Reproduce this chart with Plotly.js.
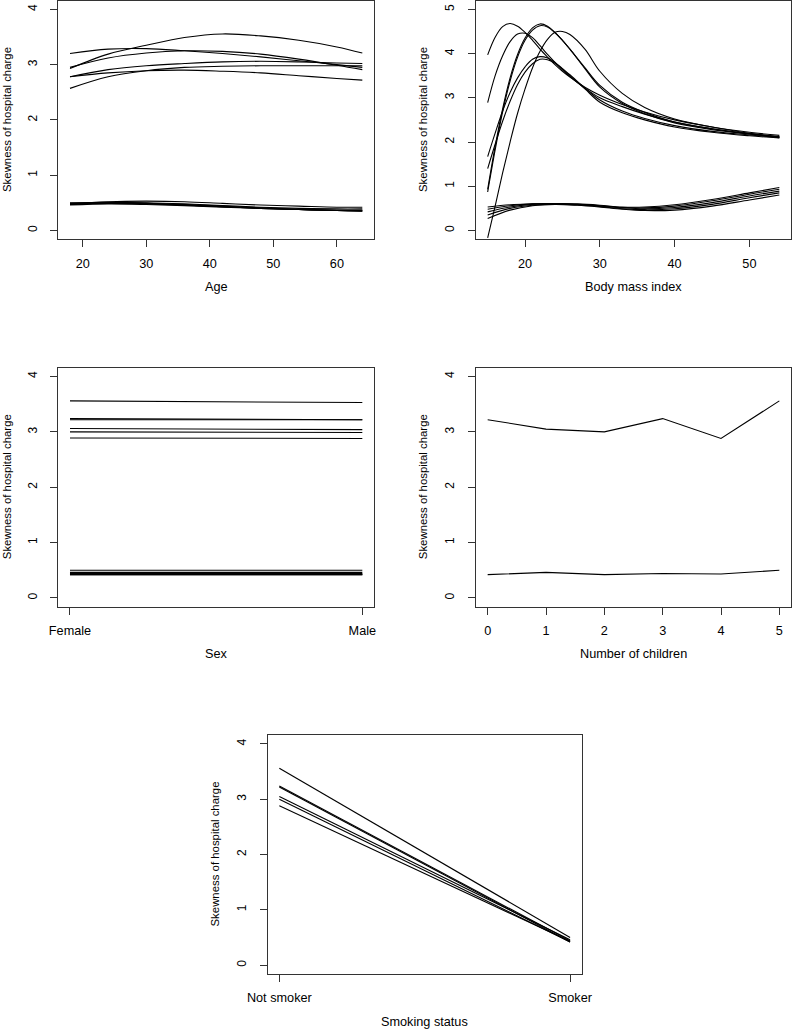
<!DOCTYPE html>
<html>
<head>
<meta charset="utf-8">
<script src="https://cdn.plot.ly/plotly-3.0.1.min.js"></script>
<style>
body { margin: 0; background: #fff; }
#plot { width: 792px; height: 1029px; }
</style>
</head>
<body>
<div id="plot"></div>
<script>
// skewness, one row per number of children (0..5)
var age_grid = [18, 24, 30, 36, 42, 48, 54, 60, 64];
var age_not_smoker = [
	[3.20, 3.28, 3.29, 3.25, 3.20, 3.14, 3.07, 3.00, 2.95],
	[2.78, 2.91, 2.98, 3.02, 3.05, 3.06, 3.05, 3.03, 3.02],
	[2.57, 2.78, 2.89, 2.95, 2.97, 2.98, 2.98, 2.98, 2.98],
	[2.95, 3.12, 3.21, 3.25, 3.24, 3.19, 3.10, 2.99, 2.91],
	[2.78, 2.85, 2.89, 2.90, 2.88, 2.85, 2.80, 2.75, 2.72],
	[2.93, 3.19, 3.35, 3.49, 3.555, 3.52, 3.44, 3.32, 3.21]
];
var age_smoker = [
	[0.50, 0.51, 0.49, 0.46, 0.43, 0.40, 0.38, 0.36, 0.35],
	[0.47, 0.50, 0.50, 0.48, 0.45, 0.42, 0.40, 0.39, 0.39],
	[0.46, 0.48, 0.47, 0.45, 0.42, 0.40, 0.38, 0.37, 0.37],
	[0.49, 0.50, 0.49, 0.47, 0.44, 0.41, 0.38, 0.36, 0.35],
	[0.47, 0.49, 0.48, 0.46, 0.43, 0.40, 0.38, 0.36, 0.36],
	[0.48, 0.52, 0.53, 0.52, 0.49, 0.46, 0.44, 0.42, 0.42]
];

var bmi_grid = [15, 16, 17, 18, 19, 20, 21, 22, 23, 24, 25, 26, 28, 30, 33, 36, 40, 45, 50, 54];
var bmi_not_smoker = [
	[-0.17, 0.55, 1.30, 2.00, 2.65, 3.20, 3.68, 4.05, 4.32, 4.48, 4.50, 4.43, 4.10, 3.60, 3.10, 2.78, 2.52, 2.34, 2.22, 2.15],
	[0.93, 1.90, 2.75, 3.45, 3.98, 4.35, 4.58, 4.67, 4.62, 4.48, 4.30, 4.10, 3.68, 3.28, 2.90, 2.67, 2.45, 2.30, 2.19, 2.12],
	[0.87, 1.82, 2.68, 3.38, 3.92, 4.30, 4.53, 4.63, 4.60, 4.47, 4.30, 4.10, 3.66, 3.24, 2.87, 2.64, 2.43, 2.28, 2.18, 2.11],
	[3.97, 4.37, 4.61, 4.68, 4.62, 4.48, 4.30, 4.10, 3.92, 3.75, 3.60, 3.47, 3.24, 3.06, 2.85, 2.68, 2.50, 2.34, 2.20, 2.12],
	[2.89, 3.50, 3.95, 4.27, 4.44, 4.46, 4.36, 4.18, 3.98, 3.80, 3.63, 3.48, 3.22, 3.00, 2.80, 2.63, 2.45, 2.30, 2.18, 2.11],
	[1.67, 2.20, 2.70, 3.12, 3.45, 3.70, 3.87, 3.93, 3.90, 3.80, 3.66, 3.52, 3.22, 2.95, 2.70, 2.53, 2.37, 2.24, 2.16, 2.10],
	[1.40, 1.95, 2.47, 2.92, 3.30, 3.58, 3.77, 3.87, 3.86, 3.78, 3.65, 3.50, 3.20, 2.90, 2.66, 2.50, 2.34, 2.22, 2.14, 2.09]
];
var bmi_grid_smoker = [15, 18, 21, 24, 27, 30, 33, 36, 40, 45, 50, 54];
var bmi_smoker = [
	[0.53, 0.58, 0.60, 0.61, 0.60, 0.57, 0.53, 0.53, 0.58, 0.70, 0.85, 0.97],
	[0.48, 0.56, 0.60, 0.61, 0.59, 0.56, 0.52, 0.51, 0.55, 0.67, 0.82, 0.93],
	[0.42, 0.53, 0.59, 0.60, 0.58, 0.55, 0.51, 0.49, 0.52, 0.63, 0.78, 0.89],
	[0.35, 0.50, 0.57, 0.60, 0.58, 0.54, 0.49, 0.47, 0.49, 0.59, 0.74, 0.85],
	[0.27, 0.46, 0.56, 0.59, 0.57, 0.53, 0.48, 0.45, 0.46, 0.55, 0.69, 0.80]
];

var sex_levels = [0, 1];
var sex_labels = ["Female", "Male"];
var sex_not_smoker = [
	[3.22, 3.22], [3.06, 3.04], [3.00, 2.99], [3.24, 3.22], [2.89, 2.88], [3.56, 3.53]
];
var sex_smoker = [
	[0.42, 0.42], [0.46, 0.46], [0.42, 0.42], [0.44, 0.44], [0.43, 0.43], [0.50, 0.50]
];

var children_levels = [0, 1, 2, 3, 4, 5];
var children_not_smoker = [3.22, 3.05, 3.00, 3.24, 2.88, 3.56];
var children_smoker = [0.42, 0.46, 0.42, 0.44, 0.43, 0.50];

var smoking_levels = [0, 1];
var smoking_labels = ["Not smoker", "Smoker"];

const W = 792;
const H = 1029;
const font_name = "Liberation Sans, Arial, sans-serif";
const frame_color = "#333";
// the picture is a bit wider than tall, so flat text reads larger than upright text
const flat_size = 12.7;
const upright_size = 11.4;

var traces = [];

function add_lines(rows, xs, xa, ya, shape)
{
	rows.forEach(r =>
	{
		traces.push({
			type: "scatter",
			mode: "lines",
			x: xs,
			y: r,
			xaxis: xa,
			yaxis: ya,
			line: {color: "#000", width: 1.1, shape: shape, smoothing: 1},
			hoverinfo: "skip",
			showlegend: false
		});
	});
}

add_lines(age_not_smoker, age_grid, "x", "y", "spline");
add_lines(age_smoker, age_grid, "x", "y", "spline");
add_lines(bmi_not_smoker, bmi_grid, "x2", "y2", "spline");
add_lines(bmi_smoker, bmi_grid_smoker, "x2", "y2", "spline");
add_lines(sex_not_smoker, sex_levels, "x3", "y3", "linear");
add_lines(sex_smoker, sex_levels, "x3", "y3", "linear");
add_lines([children_not_smoker, children_smoker], children_levels, "x4", "y4", "linear");

var smoking_rows = [];
for (var i = 0; i < children_not_smoker.length; i++)
{
	smoking_rows.push([children_not_smoker[i], children_smoker[i]]);
}
add_lines(smoking_rows, smoking_levels, "x5", "y5", "linear");

// pixel box of each panel -> paper domains
function x_dom(a, b) { return [a / W, b / W]; }
function y_dom(top, bottom) { return [1 - bottom / H, 1 - top / H]; }

function x_axis(dom, range, vals, text, anchor)
{
	var ax = {
		domain: dom,
		range: range,
		anchor: anchor,
		tickmode: "array",
		tickvals: vals,
		ticks: "outside",
		ticklen: 7,
		tickwidth: 1,
		tickcolor: frame_color,
		ticklabelstandoff: 5,
		showline: true,
		mirror: true,
		linecolor: frame_color,
		linewidth: 1,
		showgrid: false,
		zeroline: false,
		tickfont: {family: font_name, size: flat_size, color: "#000"}
	};
	if (text) ax.ticktext = text;
	return ax;
}

function y_axis(dom, range, top, anchor)
{
	var vals = [];
	for (var v = 0; v <= top; v++) vals.push(v);
	return {
		domain: dom,
		range: range,
		anchor: anchor,
		tickmode: "array",
		tickvals: vals,
		tickangle: -90,
		ticks: "outside",
		ticklen: 7,
		tickwidth: 1,
		tickcolor: frame_color,
		ticklabelstandoff: 9,
		showline: true,
		mirror: true,
		linecolor: frame_color,
		linewidth: 1,
		showgrid: false,
		zeroline: false,
		tickfont: {family: font_name, size: 12, color: "#000"}
	};
}

var left_col = x_dom(58.3, 374);
var right_col = x_dom(476, 791);
var row1 = y_dom(0.5, 239.3);
var row2 = y_dom(367.7, 606.7);
var row3 = y_dom(735, 974);

var y_range = [-0.16, 4.16];

var layout = {
	width: W,
	height: H,
	margin: {l: 0, r: 0, t: 0, b: 0},
	paper_bgcolor: "#fff",
	plot_bgcolor: "#fff",
	showlegend: false,
	font: {family: font_name, size: 12, color: "#000"},
	xaxis: x_axis(left_col, [16.16, 65.84], [20, 30, 40, 50, 60], null, "y"),
	yaxis: y_axis(row1, y_range, 4, "x"),
	xaxis2: x_axis(right_col, [13.44, 55.56], [20, 30, 40, 50], null, "y2"),
	yaxis2: y_axis(row1, [-0.2, 5.2], 5, "x2"),
	xaxis3: x_axis(left_col, [-0.04, 1.04], sex_levels, sex_labels, "y3"),
	yaxis3: y_axis(row2, y_range, 4, "x3"),
	xaxis4: x_axis(right_col, [-0.2, 5.2], children_levels, null, "y4"),
	yaxis4: y_axis(row2, y_range, 4, "x4"),
	xaxis5: x_axis(x_dom(267.7, 581.7), [-0.04, 1.04], smoking_levels, smoking_labels, "y5"),
	yaxis5: y_axis(row3, y_range, 4, "x5"),
	annotations: []
};

function label(text, px, py, angle)
{
	layout.annotations.push({
		text: text,
		xref: "paper",
		yref: "paper",
		x: px / W,
		y: 1 - py / H,
		xanchor: "center",
		yanchor: "middle",
		textangle: angle || 0,
		showarrow: false,
		font: {family: font_name, size: angle ? upright_size : flat_size, color: "#000"}
	});
}

var y_title = "Skewness of hospital charge";
label("Age", 216.2, 287);
label("Body mass index", 633.5, 287);
label("Sex", 216.2, 654.3);
label("Number of children", 633.5, 654.3);
label("Smoking status", 424.7, 1022);
label(y_title, 7, 120, -90);
label(y_title, 423, 120, -90);
label(y_title, 7, 487.2, -90);
label(y_title, 423, 487.2, -90);
label(y_title, 214, 854.5, -90);

Plotly.newPlot("plot", traces, layout, {staticPlot: true});
</script>
</body>
</html>
